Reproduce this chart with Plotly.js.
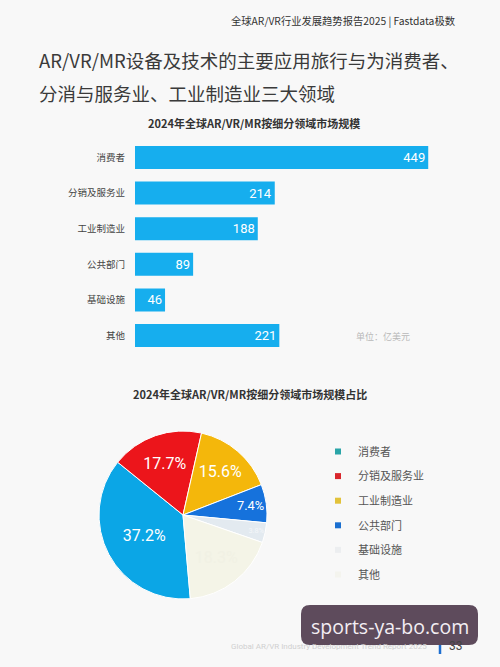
<!DOCTYPE html>
<html>
<head>
<meta charset="utf-8">
<script src="https://cdn.plot.ly/plotly-3.0.1.min.js"></script>
<style>
html,body{margin:0;padding:0;background:#f8f8f8;}
#chart{width:500px;height:667px;}
</style>
</head>
<body>
<div id="chart"></div>
<script>
// ---- data ----
const categories = ["消费者", "分销及服务业", "工业制造业", "公共部门", "基础设施", "其他"];
const marketSize = [449, 214, 188, 89, 46, 221];   // 亿美元
const pieColors = ["#0ba6e6", "#ec151b", "#f4b70b", "#1672dc", "#e3eaf0", "#f4f4e7"];
const pieTextColors = ["#ffffff", "#ffffff", "#ffffff", "#ffffff", "#f3f6f9", "#f1f1e4"];
const legendColors = ["#2aa5a8", "#d9262c", "#e2c23a", "#1a6fd0", "#eceef0", "#f4f4ee"];
const headerText = "全球AR/VR行业发展趋势报告2025 | Fastdata极数";
const titleLines = ["AR/VR/MR设备及技术的主要应用旅行与为消费者、", "分消与服务业、工业制造业三大领域"];
const barTitle = "2024年全球AR/VR/MR按细分领域市场规模";
const pieTitle = "2024年全球AR/VR/MR按细分领域市场规模占比";
const unitText = "单位：亿美元";
const footerText = "Global AR/VR Industry Development Trend Report 2025";
const pageNo = "33";
const watermark = "sports-ya-bo.com";

// ---- layout helpers (pixel -> paper) ----
const W = 500, H = 667;
const X = px => px / W;
const Y = py => 1 - py / H;
const CJK = '"Noto Sans CJK SC", "Noto Sans", sans-serif';
const NUM = 'Roboto, "Noto Sans", sans-serif';

const barTrace = {
  type: "bar",
  orientation: "h",
  y: categories,
  x: marketSize,
  xaxis: "x", yaxis: "y",
  marker: {color: "#16aeee"},
  text: marketSize.map(String),
  textposition: "inside",
  insidetextanchor: "end",
  textfont: {color: "#ffffff", size: 13, family: NUM},
  cliponaxis: false,
  showlegend: false,
  hoverinfo: "x+y"
};

const pieTrace = {
  type: "pie",
  labels: categories,
  values: marketSize,
  sort: false,
  direction: "clockwise",
  rotation: 175,
  domain: {x: [X(98), X(268)], y: [Y(599), Y(431)]},
  marker: {colors: pieColors, line: {color: "#ffffff", width: 1}},
  texttemplate: "%{percent:.1%}",
  textposition: "inside",
  insidetextorientation: "horizontal",
  insidetextfont: {color: pieTextColors, size: 16, family: NUM},
  showlegend: false
};

// legend entries (one per category, no visible points)
const legendTraces = categories.map((c, i) => ({
  type: "scatter", mode: "markers",
  x: [null], y: [null], xaxis: "x", yaxis: "y",
  name: c, legendgroup: "g" + i,
  marker: {symbol: "square", size: 6, color: legendColors[i]},
  showlegend: true, hoverinfo: "skip"
}));

const annotations = [
  {text: headerText, x: X(343), y: Y(20), font: {size: 10.3, color: "#333", family: '"Noto Sans CJK SC", serif'}},
  {text: titleLines[0], x: X(37), y: Y(60), xanchor: "left", font: {size: 18.5, color: "#3a3a3a", family: CJK}},
  {text: titleLines[1], x: X(37), y: Y(93), xanchor: "left", font: {size: 18.5, color: "#3a3a3a", family: CJK}},
  {text: "<b>" + barTitle + "</b>", x: X(254), y: Y(123), font: {size: 11, color: "#333", family: CJK}},
  {text: unitText, x: X(383), y: Y(336), font: {size: 9, color: "#b8b8b8", family: CJK}},
  {text: "<b>" + pieTitle + "</b>", x: X(250), y: Y(394), font: {size: 11, color: "#333", family: CJK}},
  {text: footerText, x: X(329), y: Y(646), font: {size: 8, color: "#d0d0d0", family: "Roboto, sans-serif"}},
  {text: pageNo, x: X(456), y: Y(646), font: {size: 12, color: "#444", family: "Roboto, sans-serif"}},
  {text: watermark, x: X(390), y: Y(626), font: {size: 19.5, color: "#f3eef3", family: '"Open Sans", sans-serif'}}
].map(a => Object.assign({xref: "paper", yref: "paper", showarrow: false, xanchor: "center", yanchor: "middle"}, a));

// rounded rectangle path for watermark badge
function rr(x0, y0, x1, y1, r) {
  const a = X, b = Y;
  return `M${a(x0 + r)},${b(y0)} L${a(x1 - r)},${b(y0)} Q${a(x1)},${b(y0)} ${a(x1)},${b(y0 + r)} ` +
         `L${a(x1)},${b(y1 - r)} Q${a(x1)},${b(y1)} ${a(x1 - r)},${b(y1)} L${a(x0 + r)},${b(y1)} ` +
         `Q${a(x0)},${b(y1)} ${a(x0)},${b(y1 - r)} L${a(x0)},${b(y0 + r)} Q${a(x0)},${b(y0)} ${a(x0 + r)},${b(y0)} Z`;
}

const layout = {
  width: W, height: H,
  margin: {l: 0, r: 0, t: 0, b: 0},
  paper_bgcolor: "#f8f8f8",
  plot_bgcolor: "rgba(0,0,0,0)",
  font: {family: CJK},
  bargap: 0.354,
  xaxis: {domain: [X(135), X(455)], range: [0, 490], visible: false, fixedrange: true},
  yaxis: {domain: [Y(353.3), Y(139.7)], autorange: "reversed", showgrid: false, zeroline: false, showline: false,
          ticks: "", ticklabelstandoff: 9, tickfont: {size: 9.5, color: "#444", family: CJK}},
  legend: {x: X(318), y: Y(437), xanchor: "left", yanchor: "top", bgcolor: "rgba(0,0,0,0)",
           tracegroupgap: 5.6, itemwidth: 30, itemsizing: "trace",
           font: {size: 11, color: "#555", family: CJK}},
  shapes: [
    {type: "line", xref: "paper", yref: "paper", x0: X(440), x1: X(440), y0: Y(638), y1: Y(654), line: {color: "#1e6fd0", width: 2.5}},
    {type: "path", xref: "paper", yref: "paper", path: rr(301, 605, 478, 645, 9), fillcolor: "#5e4b5c", line: {width: 0}, layer: "above"}
  ],
  annotations: annotations
};

Plotly.newPlot("chart", [barTrace, pieTrace].concat(legendTraces), layout, {displayModeBar: false, staticPlot: true});
</script>
</body>
</html>
